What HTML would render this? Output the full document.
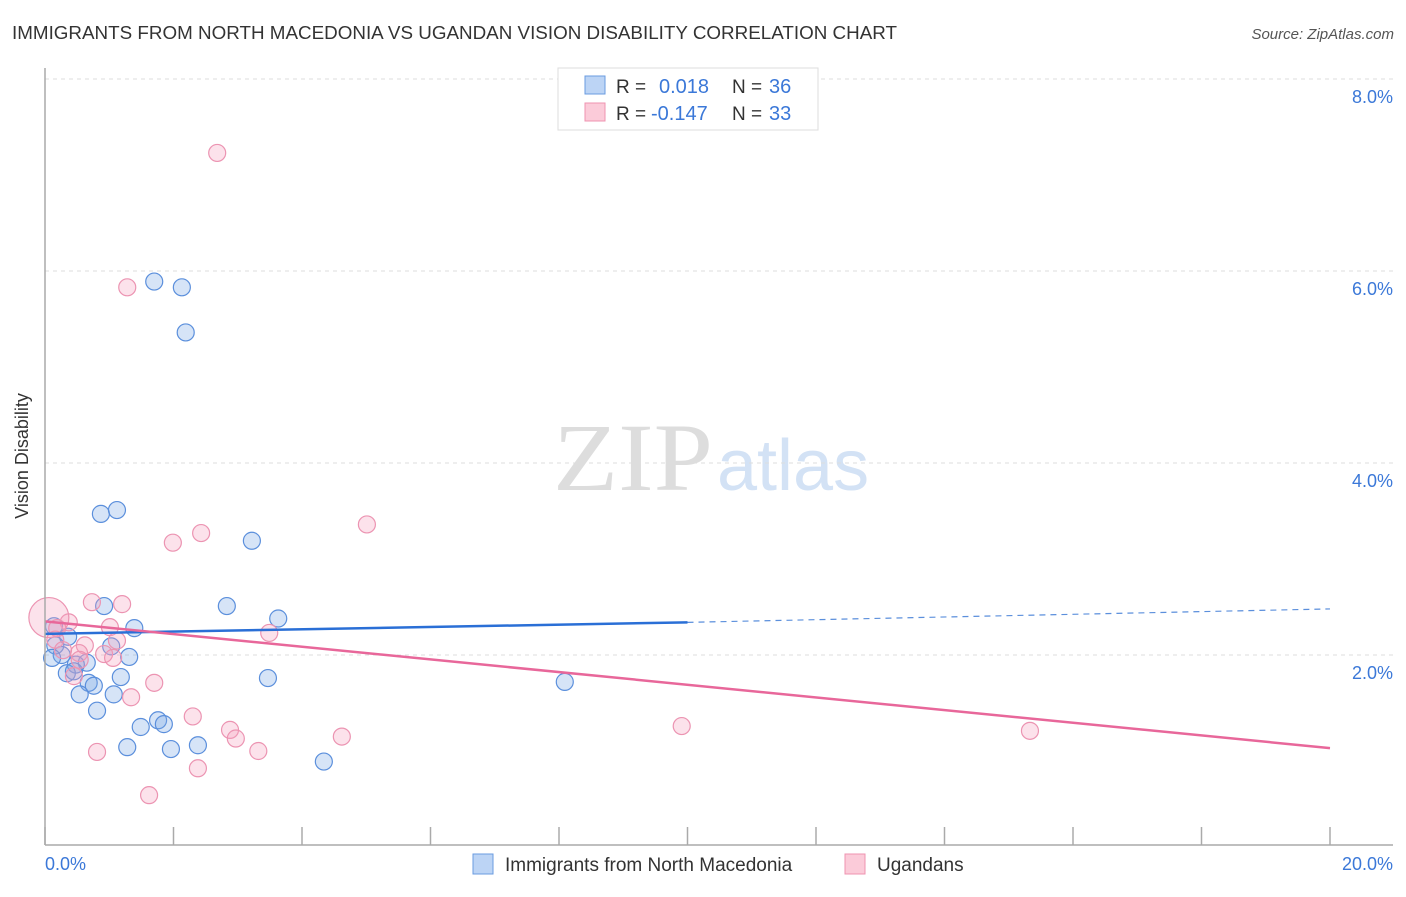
<!DOCTYPE html>
<html><head><meta charset="utf-8"><style>
body{margin:0;background:#fff;font-family:"Liberation Sans",sans-serif}
svg text{font-family:"Liberation Sans",sans-serif}
</style></head><body>
<svg id="c" width="1406" height="892" xmlns="http://www.w3.org/2000/svg">
<text x="12" y="39" font-size="18" fill="#333" textLength="885" lengthAdjust="spacingAndGlyphs">IMMIGRANTS FROM NORTH MACEDONIA VS UGANDAN VISION DISABILITY CORRELATION CHART</text>
<text x="1394" y="39" font-size="15" fill="#555" font-style="italic" text-anchor="end">Source: ZipAtlas.com</text>
<text x="28" y="456" font-size="18" fill="#333" transform="rotate(-90 28 456)" text-anchor="middle">Vision Disability</text>
<g><text x="553" y="490" font-size="96" fill="#ddd" textLength="160" lengthAdjust="spacingAndGlyphs" style="font-family:'Liberation Serif',serif">ZIP</text><text x="717" y="490" font-size="72" fill="#d3e2f5">atlas</text></g>
<g id="grid"></g><g id="ticks"></g><g id="pts"></g><g id="lines"></g>
<line x1="45" y1="68" x2="45" y2="845" stroke="#aaa" stroke-width="1.5"/>
<line x1="45" y1="845" x2="1393" y2="845" stroke="#aaa" stroke-width="1.5"/>
<text x="45" y="870" font-size="18" fill="#3b78d8">0.0%</text>
<text x="1393" y="870" font-size="18" fill="#3b78d8" text-anchor="end">20.0%</text>
<g>
<rect x="558" y="68" width="260" height="62" fill="#fff" stroke="#ddd"/>
<rect x="585" y="76" width="20" height="18" fill="#bcd4f5" stroke="#6a9be0"/>
<rect x="585" y="103" width="20" height="18" fill="#fbcbd9" stroke="#ef93b0"/>
<text x="616" y="93" font-size="19" fill="#333">R =</text>
<text x="659" y="93" font-size="20" fill="#3b78d8">0.018</text>
<text x="732" y="93" font-size="19" fill="#333">N =</text>
<text x="769" y="93" font-size="20" fill="#3b78d8">36</text>
<text x="616" y="120" font-size="19" fill="#333">R =</text>
<text x="651" y="120" font-size="20" fill="#3b78d8">-0.147</text>
<text x="732" y="120" font-size="19" fill="#333">N =</text>
<text x="769" y="120" font-size="20" fill="#3b78d8">33</text>
</g>
<g>
<rect x="473" y="854" width="20" height="20" fill="#bcd4f5" stroke="#6a9be0"/>
<text x="505" y="871" font-size="19" fill="#333">Immigrants from North Macedonia</text>
<rect x="845" y="854" width="20" height="20" fill="#fbcbd9" stroke="#ef93b0"/>
<text x="877" y="871" font-size="19" fill="#333">Ugandans</text>
</g>
</svg>
<script>
const yTicks=[2,4,6,8];
const xTicks=[0,2,4,6,8,10,12,14,16,18,20];
const blueX=[1.70,2.13,2.19,0.87,1.12,3.22,2.83,0.92,3.63,1.39,0.14,0.36,0.16,0.26,0.65,1.31,0.48,0.11,0.34,0.45,0.68,0.76,1.18,3.47,8.09,0.54,1.07,0.81,1.76,1.85,1.49,1.28,1.96,2.38,4.34,1.03];
const blueY=[5.89,5.83,5.36,3.47,3.51,3.19,2.51,2.51,2.38,2.28,2.30,2.19,2.10,2.00,1.92,1.98,1.90,1.97,1.81,1.83,1.71,1.68,1.77,1.76,1.72,1.59,1.59,1.42,1.32,1.28,1.25,1.04,1.02,1.06,0.89,2.09];
const pinkX=[2.68,1.28,5.01,2.43,1.99,0.73,1.20,0.37,1.01,3.49,0.06,0.62,1.12,0.19,0.92,0.53,1.06,0.45,1.70,1.34,2.30,2.88,2.97,4.62,3.32,0.81,2.38,1.62,9.91,15.33,0.16,0.28,0.54];
const pinkY=[7.23,5.83,3.36,3.27,3.17,2.55,2.53,2.34,2.29,2.23,2.39,2.10,2.15,2.28,2.01,2.02,1.97,1.78,1.71,1.56,1.36,1.22,1.13,1.15,1.00,0.99,0.82,0.54,1.26,1.21,2.16,2.05,1.95];
const blueTrend=[2.22,2.34,2.48];
const pinkTrend=[2.35,1.03];
const X=v=>45+v*64.25, Y=v=>847-v*96;
const NS='http://www.w3.org/2000/svg';
function mk(t,a,p){const e=document.createElementNS(NS,t);for(const k in a)e.setAttribute(k,a[k]);document.getElementById(p).appendChild(e);return e;}
yTicks.forEach(t=>{
 const l=mk('line',{x1:45,x2:1393,y1:Y(t),y2:Y(t),stroke:'#ddd','stroke-dasharray':'4,4'},'grid');
 
 
 const s=mk('text',{x:1393,y:Y(t)+24,'font-size':18,fill:'#3b78d8','text-anchor':'end'},'grid');
 s.textContent=t.toFixed(1)+'%';
 
 
});
xTicks.forEach(t=>{
 const l=mk('line',{x1:X(t),x2:X(t),y1:827,y2:845,stroke:'#aaa','stroke-width':1.5},'ticks');
 
 
});
blueX.forEach((x,i)=>{
 const c=mk('circle',{cx:X(x),cy:Y(blueY[i]),r:8.5,fill:'rgba(120,165,230,0.3)',stroke:'#5b8fdc','stroke-width':1.2},'pts');
 
 
});
pinkX.forEach((x,i)=>{
 const r=i==10?20:8.5;
 const c=mk('circle',{cx:X(x),cy:Y(pinkY[i]),r:r,fill:'rgba(245,160,190,0.3)',stroke:'#ec94b2','stroke-width':1.2},'pts');
 
 
});
let l=mk('line',{x1:X(0),y1:Y(blueTrend[0]),x2:X(10),y2:Y(blueTrend[1]),stroke:'#2a6fd6','stroke-width':2.5},'lines');


l=mk('line',{x1:X(10),y1:Y(blueTrend[1]),x2:X(20),y2:Y(blueTrend[2]),stroke:'#5b8fdc','stroke-width':1.2,'stroke-dasharray':'6,5'},'lines');


l=mk('line',{x1:X(0),y1:Y(pinkTrend[0]),x2:X(20),y2:Y(pinkTrend[1]),stroke:'#e8679a','stroke-width':2.5},'lines');


</script>
</body></html>
